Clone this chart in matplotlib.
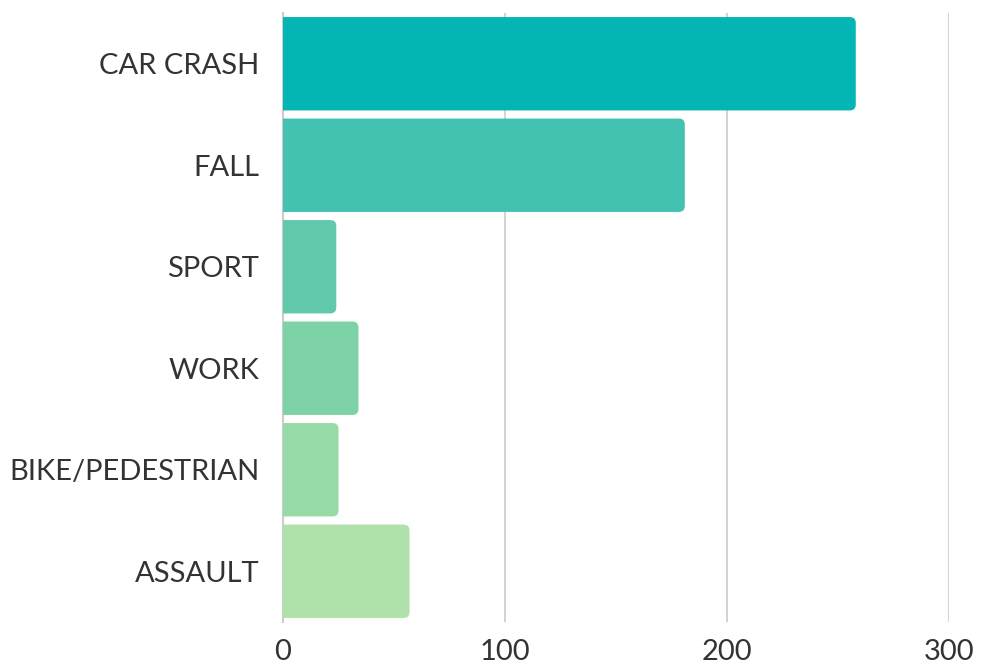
import matplotlib
matplotlib.use('Agg')
import matplotlib.pyplot as plt
from matplotlib.patches import PathPatch
from matplotlib.path import Path

categories = ['CAR CRASH', 'FALL', 'SPORT', 'WORK', 'BIKE/PEDESTRIAN', 'ASSAULT']
counts = [258, 181, 24, 34, 25, 57]
colors = ['#03b5b3', '#43c1b1', '#60c8ab', '#7dd2a8', '#96daa8', '#b1e1aa']
xticks = [0, 100, 200, 300]

plt.rcParams['font.family'] = ['Lato', 'DejaVu Sans']

fig = plt.figure(figsize=(9.85, 6.65), dpi=100)
ax = fig.add_axes([283 / 985, 1 - 622 / 665, (949 - 283) / 985, (622 - 13) / 665])

bars = ax.barh(range(len(categories)), counts, height=0.92, color=colors)
ax.set_xlim(0, 300)
ax.set_ylim(len(categories) - 0.5, -0.5)

# replace plain bars with ones that have rounded right corners (~6 px)
fig.canvas.draw()
px_x = ax.transData.transform((1, 0))[0] - ax.transData.transform((0, 0))[0]
px_y = abs(ax.transData.transform((0, 1))[1] - ax.transData.transform((0, 0))[1])
rx, ry = 6 / px_x, 6 / px_y
for b in bars:
    x0, y0, w, h = b.get_x(), b.get_y(), b.get_width(), b.get_height()
    x1, y1 = x0 + w, y0 + h
    verts = [(x0, y0), (x1 - rx, y0), (x1, y0), (x1, y0 + ry), (x1, y1 - ry),
             (x1, y1), (x1 - rx, y1), (x0, y1), (x0, y0)]
    codes = [Path.MOVETO, Path.LINETO, Path.CURVE3, Path.CURVE3, Path.LINETO,
             Path.CURVE3, Path.CURVE3, Path.LINETO, Path.CLOSEPOLY]
    ax.add_patch(PathPatch(Path(verts, codes), facecolor=b.get_facecolor(),
                           edgecolor='none', zorder=3))
    b.set_visible(False)

ax.set_yticks(range(len(categories)))
ax.set_yticklabels(categories)
ax.set_xticks(xticks)
ax.tick_params(axis='both', length=0, labelsize=21, colors='#333333')
ax.tick_params(axis='y', pad=17)
ax.tick_params(axis='x', pad=12)
ax.grid(axis='x', color='#cccccc', linewidth=1.2, zorder=0)
ax.set_axisbelow(True)
for s in ['top', 'right', 'bottom']:
    ax.spines[s].set_visible(False)
ax.spines['left'].set_color('#cccccc')
ax.spines['left'].set_linewidth(1.5)

fig.savefig('out.png', dpi=100)
